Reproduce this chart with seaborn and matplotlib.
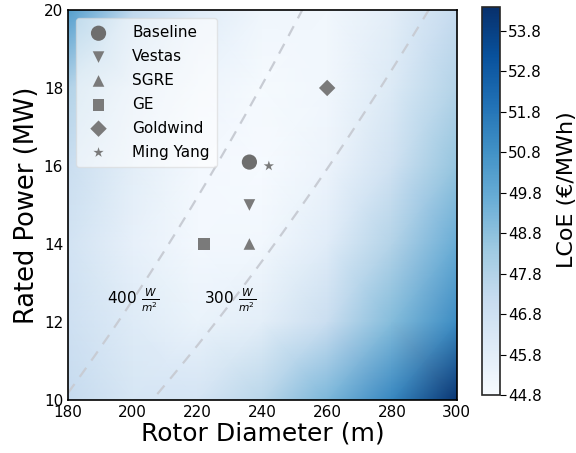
import numpy as np
import pandas as pd
import matplotlib
matplotlib.use("Agg")
import matplotlib.pyplot as plt
import seaborn as sns

# LCoE surface (EUR/MWh), rows = rated power, cols = diameter
diameters = [180, 200, 220, 240, 260, 280, 300]
powers = [10, 12, 14, 16, 18, 20]
lcoe_p10 = [47.2, 46.4, 46.5, 47.6, 49.2, 51.2, 54.2]
lcoe_p12 = [46.8, 46.0, 45.4, 45.8, 47.0, 49.0, 51.0]
lcoe_p14 = [46.6, 45.6, 45.0, 45.1, 45.9, 47.8, 49.7]
lcoe_p16 = [47.0, 45.8, 45.0, 44.85, 45.3, 46.7, 48.6]
lcoe_p18 = [47.8, 46.3, 45.3, 44.9, 45.1, 46.1, 47.8]
lcoe_p20 = [50.3, 47.4, 45.9, 45.2, 45.1, 45.8, 47.2]

# turbines
turbines = ["Baseline", "Vestas", "SGRE", "GE", "Goldwind", "Ming Yang"]
turb_d = [236, 236, 236, 222, 260, 242]
turb_p = [16.1, 15, 14, 14, 18, 16]
turb_marker = ["o", "v", "^", "s", "D", "*"]
turb_size = [120, 70, 70, 70, 70, 60]

specific_powers = [400, 300]  # W/m2
sp_label_x = [192, 222]
sp_label_y = [12.55, 12.55]

cbar_ticks = [44.8, 45.8, 46.8, 47.8, 48.8, 49.8, 50.8, 51.8, 52.8, 53.8]

sns.set_style("white")
plt.rcParams['font.family'] = ['DejaVu Sans']
plt.rcParams['text.color'] = 'black'
plt.rcParams['axes.labelcolor'] = 'black'

fig = plt.figure(figsize=(5.76, 4.53), dpi=100)
ax = fig.add_axes([0.118, 0.117, 0.675, 0.861])
cax = fig.add_axes([0.837, 0.128, 0.031, 0.857])

Z = np.array([lcoe_p10, lcoe_p12, lcoe_p14, lcoe_p16, lcoe_p18, lcoe_p20])
DD, PP = np.meshgrid(diameters, powers)
im = ax.pcolormesh(DD, PP, Z, shading="gouraud", cmap="Blues",
                   vmin=44.8, vmax=54.4, rasterized=True)

# constant specific power lines
d = np.linspace(180, 300, 200)
for sp in specific_powers:
    p = sp * np.pi * d ** 2 / 4 / 1e6
    sns.lineplot(x=d, y=p, ax=ax, color="#c8ccd4", lw=1.6, linestyle=(0, (5, 4)))
for sp, x, y in zip(specific_powers, sp_label_x, sp_label_y):
    ax.text(x, y, r"$%d\ \frac{W}{m^2}$" % sp, fontsize=11, ha="left", va="center")

df = pd.DataFrame({"name": turbines, "D": turb_d, "P": turb_p})
for i, row in df.iterrows():
    ax.scatter(row["D"], row["P"], marker=turb_marker[i], s=turb_size[i],
               color="#6e6e6e" if i == 0 else "#7a7a7a", label=row["name"],
               edgecolors="none", zorder=5)

ax.set_xlim(180, 300)
ax.set_ylim(10, 20)
ax.set_xticks([180, 200, 220, 240, 260, 280, 300])
ax.set_yticks([10, 12, 14, 16, 18, 20])
ax.grid(True, color="#e4e4e4", lw=0.6, alpha=0.6)
ax.tick_params(direction="in", labelsize=11, length=5, width=1, colors="black")
for s in ax.spines.values():
    s.set_linewidth(1.2)
    s.set_color("black")
ax.set_xlabel("Rotor Diameter (m)", fontsize=18, labelpad=1)
ax.set_ylabel("Rated Power (MW)", fontsize=18.5, labelpad=3)

leg = ax.legend(loc="upper left", fontsize=11, frameon=True, framealpha=0.6,
                edgecolor="#d8d8d8", borderpad=0.5, labelspacing=0.58,
                handletextpad=1.2, scatterpoints=1)

cb = fig.colorbar(im, cax=cax)
cb.set_ticks(cbar_ticks)
cb.ax.tick_params(labelsize=11, direction="out", length=4, pad=2, colors="black")
cb.outline.set_linewidth(1.2)
cb.set_label("LCoE (€/MWh)", fontsize=16)
cb.ax.yaxis.set_label_coords(4.2, 0.53)

fig.savefig("out.png", dpi=100)
